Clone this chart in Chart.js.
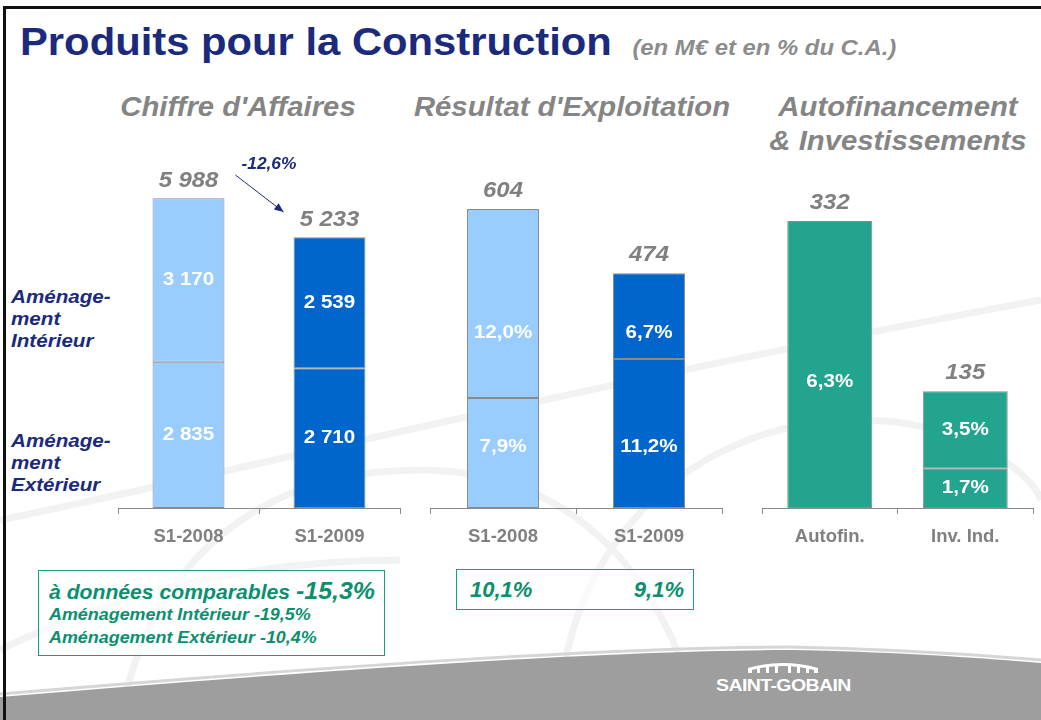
<!DOCTYPE html>
<html lang="fr">
<head>
<meta charset="utf-8">
<script src="https://cdn.jsdelivr.net/npm/chart.js@4/dist/chart.umd.min.js"></script>
<style>
  html, body { margin: 0; padding: 0; }
  body { width: 1041px; height: 720px; position: relative; overflow: hidden; background: #fff;
         font-family: 'Liberation Sans', Arial, sans-serif; }
  .abs { position: absolute; }
  canvas { position: absolute; }
  .wide { transform: scaleX(1.085); transform-origin: left center; }
  #title { left: 20px; top: 20px; font-size: 38.5px; font-weight: bold; color: #1b2a7c; white-space: nowrap; }
  #title small { font-size: 22px; font-style: italic; color: #8c8c8c; font-weight: bold; margin-left: 19px; }
  .ptitle { font-size: 27px; font-weight: bold; font-style: italic; color: #858585; text-align: center; white-space: nowrap; line-height: 34px;
            transform: scaleX(1.085); transform-origin: center; }
  .side { left: 11px; font-size: 19px; font-weight: bold; font-style: italic; color: #1b2a7c; line-height: 22px; }
  .box { border: 1px solid #13a085; color: #0b8f6e; font-weight: bold; font-style: italic; background: rgba(255,255,255,0.6); }
  #logo { left: 716px; top: 677px; color: #fff; font-weight: bold; font-size: 16px; letter-spacing: -0.5px; transform: scaleX(1.22); transform-origin: left center; }
</style>
</head>
<body>
<svg class="abs" style="left:0;top:0" width="1041" height="720">
  <g fill="none" stroke="#f2f2f2" stroke-width="7">
    <path d="M120 720 C 150 560, 260 470, 420 470 C 560 470, 660 560, 700 720"/>
    <path d="M560 720 C 560 560, 680 420, 860 420 C 960 420, 1030 470, 1041 500"/>
    <path d="M0 520 C 200 480, 600 380, 1041 300"/>
    <path d="M0 650 C 120 590, 260 560, 400 560"/>
  </g>
  <path d="M0 697 C 300 672, 600 650, 790 650 C 900 652, 980 658, 1041 663 L1041 720 L0 720 Z" fill="#9e9e9e"/>
  <path d="M0 694 C 300 669, 600 647, 790 647 C 900 649, 980 655, 1041 660" fill="none" stroke="#d6d6d6" stroke-width="3"/>
  <g fill="#fff">
    <path d="M748 673 L748 668 Q783 658 818 668 L818 673 L814 673 L814 670 Q783 662 752 670 L752 673 Z"/>
    <rect x="757" y="667" width="3" height="6"/><rect x="766" y="665" width="3" height="8"/>
    <rect x="775" y="664" width="3" height="9"/><rect x="788" y="664" width="3" height="9"/>
    <rect x="797" y="665" width="3" height="8"/><rect x="806" y="667" width="3" height="6"/>
  </g>
  <rect x="3" y="6" width="1038" height="3" fill="#111"/>
  <rect x="3" y="6" width="3" height="714" fill="#111"/>
</svg>

<div id="title" class="abs wide">Produits pour la Construction<small>(en M€ et en % du C.A.)</small></div>
<div class="abs ptitle" style="left:98px;top:90px;width:280px">Chiffre d'Affaires</div>
<div class="abs ptitle" style="left:402px;top:90px;width:340px">Résultat d'Exploitation</div>
<div class="abs ptitle" style="left:748px;top:90px;width:300px">Autofinancement<br>&amp; Investissements</div>

<div class="abs side wide" style="top:286px">Aménage-<br>ment<br>Intérieur</div>
<div class="abs side wide" style="top:430px">Aménage-<br>ment<br>Extérieur</div>

<canvas id="ca" width="286" height="408" style="left:116px;top:150px"></canvas>
<canvas id="re" width="296" height="408" style="left:428px;top:150px"></canvas>
<canvas id="af" width="275" height="408" style="left:760px;top:150px"></canvas>

<div class="abs box" style="left:38px;top:570px;width:345px;height:84px">
  <div class="wide" style="position:absolute;left:10px;top:7px;font-size:19.5px;white-space:nowrap">à données comparables <span style="font-size:23px">-15,3%</span></div>
  <div class="wide" style="position:absolute;left:10px;top:34px;font-size:16.5px;white-space:nowrap">Aménagement Intérieur -19,5%</div>
  <div class="wide" style="position:absolute;left:10px;top:57px;font-size:16.5px;white-space:nowrap">Aménagement Extérieur -10,4%</div>
</div>
<div class="abs box" style="left:456px;top:569px;width:236px;height:39px;font-size:22px">
  <div style="position:absolute;left:13px;top:7px">10,1%</div>
  <div style="position:absolute;right:9px;top:7px">9,1%</div>
</div>
<div id="logo" class="abs">SAINT-GOBAIN</div>

<script>
// Chiffre d'Affaires (M€)
const caCategories = ['S1-2008', 'S1-2009']
const caExterieur = [2835, 2710]
const caInterieur = [3170, 2539]
const caTotal = [5988, 5233]
const caVariation = '-12,6%'

// Résultat d'Exploitation (M€) et marge en % du C.A.
const reCategories = ['S1-2008', 'S1-2009']
const reExterieur = [222, 301]
const reInterieur = [382, 173]
const reTotal = [604, 474]
const reMargeExt = ['7,9%', '11,2%']
const reMargeInt = ['12,0%', '6,7%']

// Autofinancement & Investissements (M€) et % du C.A.
const afCategories = ['Autofin.', 'Inv. Ind.']
const afBas = [332, 46]
const afHaut = [null, 89]
const afTotal = [332, 135]
const afPctBas = ['6,3%', '1,7%']
const afPctHaut = ['', '3,5%']

const fmt = v => String(v).replace(/\B(?=(\d{3})+(?!\d))/g, ' ')
const FONT = "'Liberation Sans', Arial, sans-serif"
const SX = 1.085  // the slide is a little stretched sideways

const LIGHT = '#99ccff', DARK = '#0066cc', TEAL = '#22a48e', EDGE = '#8a8a8a'

function wideText(ctx, txt, x, y) {
  ctx.save()
  ctx.translate(x, y)
  ctx.scale(SX, 1)
  ctx.fillText(txt, 0, 0)
  ctx.restore()
}

const barLabels = {
  id: 'barLabels',
  afterDatasetsDraw(chart, args, opts) {
    const ctx = chart.ctx
    const y = chart.scales.y
    ctx.save()
    ctx.textAlign = 'center'
    ctx.textBaseline = 'middle'
    ctx.fillStyle = '#fff'
    ctx.font = `bold 19px ${FONT}`
    chart.data.datasets.forEach((ds, di) => {
      chart.getDatasetMeta(di).data.forEach((bar, i) => {
        let txt = ds.labels && ds.labels[i]
        if (!txt || ds.data[i] == null) return
        let ty = (bar.y + bar.base) / 2
        let row = opts.rows && opts.rows[di]
        if (Array.isArray(row)) row = row[i]
        if (row != null) ty = y.getPixelForValue(row)
        wideText(ctx, txt, bar.x, ty)
      })
    })
    // totals above the stacks
    ctx.fillStyle = '#808080'
    ctx.font = `italic bold 22px ${FONT}`
    ctx.textBaseline = 'bottom'
    opts.totals.forEach((t, i) => {
      let top = y.getPixelForValue(t)
      let x = chart.getDatasetMeta(0).data[i].x
      wideText(ctx, fmt(t), x, top - 7)
    })
    // variation arrow
    if (opts.variation) {
      let b0 = chart.getDatasetMeta(0).data[0], b1 = chart.getDatasetMeta(0).data[1]
      let x0 = b0.x + b0.width / 2 + 11, y0 = y.getPixelForValue(opts.totals[0]) - 24
      let x1 = b1.x - b1.width / 2 - 10, y1 = y.getPixelForValue(opts.totals[1]) - 26
      ctx.strokeStyle = '#1b2a7c'
      ctx.fillStyle = '#1b2a7c'
      ctx.lineWidth = 1
      ctx.beginPath(); ctx.moveTo(x0, y0); ctx.lineTo(x1, y1); ctx.stroke()
      let a = Math.atan2(y1 - y0, x1 - x0)
      ctx.beginPath()
      ctx.moveTo(x1, y1)
      ctx.lineTo(x1 - 10 * Math.cos(a - 0.4), y1 - 10 * Math.sin(a - 0.4))
      ctx.lineTo(x1 - 10 * Math.cos(a + 0.4), y1 - 10 * Math.sin(a + 0.4))
      ctx.closePath(); ctx.fill()
      ctx.font = `italic bold 16px ${FONT}`
      ctx.textAlign = 'left'
      ctx.textBaseline = 'middle'
      wideText(ctx, opts.variation, x0 + 6, y0 - 10)
    }
    ctx.restore()
  }
}

function makeChart(id, labels, datasets, max, barPct, plug) {
  return new Chart(document.getElementById(id), {
    type: 'bar',
    data: { labels, datasets },
    plugins: [barLabels],
    options: {
      responsive: false,
      devicePixelRatio: 1,
      animation: false,
      layout: { padding: { left: 2, right: 2, top: 0, bottom: 0 } },
      datasets: { bar: { barPercentage: barPct, categoryPercentage: 1, borderWidth: 1, borderColor: EDGE, borderSkipped: false } },
      plugins: { legend: { display: false }, tooltip: { enabled: false }, barLabels: plug },
      scales: {
        x: {
          stacked: true,
          grid: { offset: true, drawOnChartArea: false, drawTicks: true, tickLength: 6, color: '#8a8a8a' },
          border: { color: '#8a8a8a' },
          ticks: { color: '#808080', padding: 12, font: { family: FONT, size: 18.5, weight: 'bold' } },
          afterFit(s) { s.height = 50 }
        },
        y: { stacked: true, display: false, min: 0, max }
      }
    }
  })
}

makeChart('ca', caCategories, [
  { data: caExterieur, labels: caExterieur.map(fmt), backgroundColor: [LIGHT, DARK] },
  { data: caInterieur, labels: caInterieur.map(fmt), backgroundColor: [LIGHT, DARK] }
], 6938, 0.51, { totals: caTotal, variation: caVariation })

makeChart('re', reCategories, [
  { data: reExterieur, labels: reMargeExt, backgroundColor: [LIGHT, DARK] },
  { data: reInterieur, labels: reMargeInt, backgroundColor: [LIGHT, DARK] }
], 723, 0.493, { totals: reTotal, rows: [123, 354] })

makeChart('af', afCategories, [
  { data: afBas, labels: afPctBas, backgroundColor: TEAL },
  { data: afHaut, labels: afPctHaut, backgroundColor: TEAL }
], 414, 0.627, { totals: afTotal, rows: [[146, null], null] })
</script>
</body>
</html>
